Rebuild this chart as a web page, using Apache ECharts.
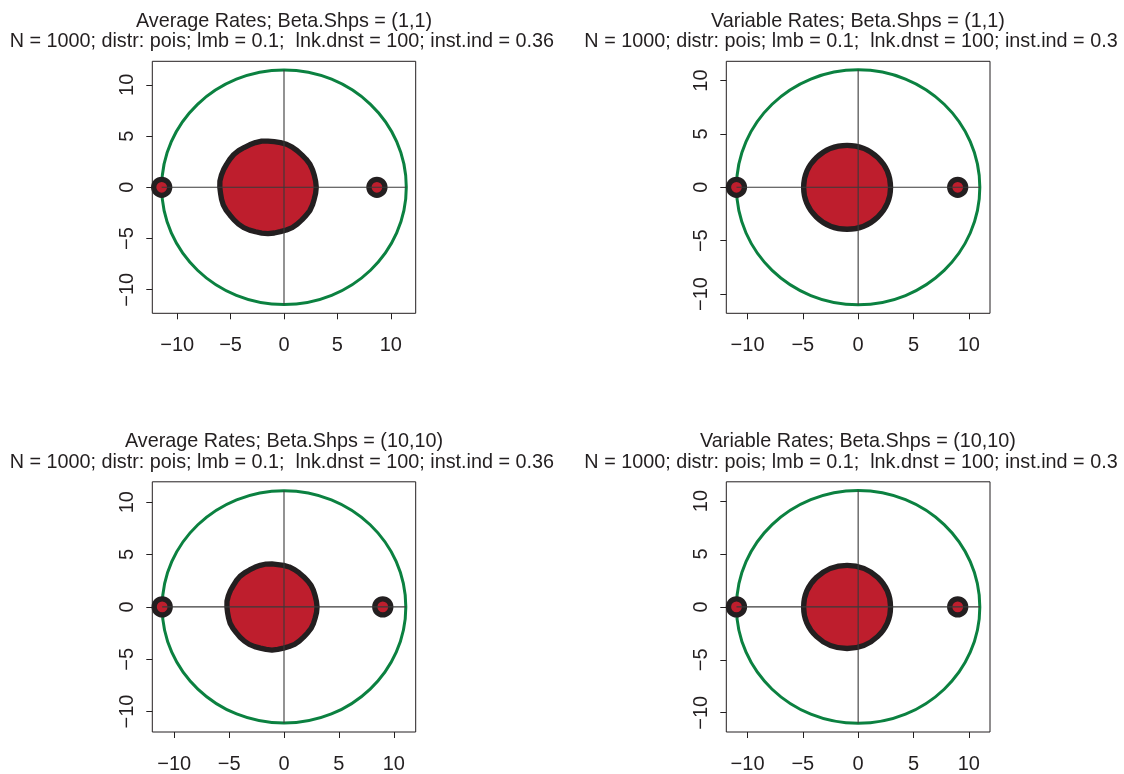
<!DOCTYPE html>
<html><head><meta charset="utf-8">
<script src="https://cdn.jsdelivr.net/npm/echarts@6/dist/echarts.min.js"></script>
<style>html,body{margin:0;padding:0;background:#fff}#c{width:1124px;height:774px}</style>
</head><body><div id="c"></div>
<script>
// ---- data ----
const titles = [
  'Average Rates; Beta.Shps = (1,1)',
  'Variable Rates; Beta.Shps = (1,1)',
  'Average Rates; Beta.Shps = (10,10)',
  'Variable Rates; Beta.Shps = (10,10)'
];
const subtitles = [
  'N = 1000; distr: pois; lmb = 0.1;  lnk.dnst = 100; inst.ind = 0.36',
  'N = 1000; distr: pois; lmb = 0.1;  lnk.dnst = 100; inst.ind = 0.3',
  'N = 1000; distr: pois; lmb = 0.1;  lnk.dnst = 100; inst.ind = 0.36',
  'N = 1000; distr: pois; lmb = 0.1;  lnk.dnst = 100; inst.ind = 0.3'
];
const tickValues = [-10, -5, 0, 5, 10];
const xLimit = [12.33, 11.92, 12.0, 11.92];
const yLimit = [12.3, 11.8, 11.95, 11.82];
const ringRadius = [11.45, 11.0, 11.1, 11.0];
const diskCenterX = [-1.5, -1.0, -1.1, -1.0];
const diskRadius = [4.5, 3.93, 4.1, 3.93];
const leftDotX = [-11.45, -11.0, -11.1, -11.0];
const rightDotX = [8.7, 9.0, 9.0, 9.0];
// slightly irregular outlines of the "Average Rates" disks (radius per 7.5 degrees)
const outlineRadii1 = [4.52,4.50,4.49,4.51,4.53,4.50,4.48,4.50,4.53,4.55,4.52,4.49,4.51,4.54,4.52,4.49,
                       4.48,4.51,4.53,4.50,4.48,4.50,4.52,4.54,4.51,4.48,4.50,4.53,4.51,4.48,4.50,4.53,
                       4.55,4.52,4.49,4.51,4.53,4.50,4.48,4.51,4.54,4.52,4.49,4.50,4.53,4.51,4.48,4.50];
const outlineRadii3 = [4.11,4.09,4.08,4.10,4.12,4.10,4.08,4.09,4.12,4.13,4.11,4.08,4.10,4.13,4.11,4.09,
                       4.08,4.10,4.12,4.10,4.07,4.09,4.11,4.13,4.10,4.08,4.09,4.12,4.10,4.08,4.10,4.12,
                       4.13,4.11,4.08,4.10,4.12,4.09,4.08,4.10,4.13,4.11,4.08,4.09,4.12,4.10,4.08,4.10];
const outlines = [outlineRadii1, null, outlineRadii3, null];

// ---- styles / layout ----
const RED = '#be1e2d', DARK = '#231f20', GREEN = '#0b8140', LINE = '#3a3a3a';
const FONT = 'Liberation Sans, Arial, Helvetica, sans-serif';
const grids = [
  {left: 152.3, top: 61.3, width: 263.4, height: 252},
  {left: 726.3, top: 61.3, width: 263.7, height: 252},
  {left: 152.3, top: 481.8, width: 263.4, height: 252.3},
  {left: 726.3, top: 481.8, width: 263.7, height: 252.3}
];
const fmt = v => String(v).replace('-', '\u2212');

const xAxis = [], yAxis = [], series = [], graphic = [];
grids.forEach((g, i) => {
  g.show = true; g.borderColor = DARK; g.borderWidth = 1; g.backgroundColor = 'transparent';
  const common = {
    gridIndex: i, type: 'value',
    axisLine: {show: false, onZero: false},
    splitLine: {show: false},
    axisTick: {show: true, customValues: tickValues, length: 6, lineStyle: {color: DARK, width: 1}},
  };
  xAxis.push(Object.assign({}, common, {
    min: -xLimit[i], max: xLimit[i],
    axisLabel: {customValues: tickValues, formatter: fmt, fontSize: 20, fontFamily: FONT, color: DARK, margin: 22}
  }));
  yAxis.push(Object.assign({}, common, {
    min: -yLimit[i], max: yLimit[i],
    axisLabel: {customValues: tickValues, formatter: fmt, fontSize: 20, fontFamily: FONT, color: DARK, margin: 15, rotate: 90}
  }));
  // green ring
  series.push({
    type: 'custom', xAxisIndex: i, yAxisIndex: i, silent: true,
    data: [[0, 0, ringRadius[i]]],
    renderItem: (p, api) => {
      const c = api.coord([api.value(0), api.value(1)]);
      const s = api.size([api.value(2), api.value(2)]);
      return {type: 'ellipse', shape: {cx: c[0], cy: c[1], rx: s[0], ry: s[1]},
              style: {fill: 'none', stroke: GREEN, lineWidth: 3}};
    }
  });
  // cross lines
  const R = ringRadius[i];
  series.push({type: 'line', xAxisIndex: i, yAxisIndex: i, silent: true, symbol: 'none',
    data: [[leftDotX[i], 0], [R, 0]], lineStyle: {color: LINE, width: 1.1}});
  series.push({type: 'line', xAxisIndex: i, yAxisIndex: i, silent: true, symbol: 'none',
    data: [[0, -R], [0, R]], lineStyle: {color: LINE, width: 1.1}});
  // red disk
  const radii = outlines[i];
  series.push({
    type: 'custom', xAxisIndex: i, yAxisIndex: i, silent: true,
    data: [[diskCenterX[i], 0, diskRadius[i]]],
    renderItem: (p, api) => {
      const cx = api.value(0), cy = api.value(1), r = api.value(2);
      const style = {fill: RED, stroke: DARK, lineWidth: 5.3, lineJoin: 'round'};
      if (radii) {
        const pts = radii.map((rr, k) => {
          const a = k / radii.length * 2 * Math.PI;
          return api.coord([cx + rr * Math.cos(a), cy + rr * Math.sin(a)]);
        });
        return {type: 'polygon', shape: {points: pts}, style};
      }
      const c = api.coord([cx, cy]);
      const s = api.size([r, r]);
      return {type: 'ellipse', shape: {cx: c[0], cy: c[1], rx: s[0], ry: s[1]}, style};
    }
  });
  // small dots
  series.push({type: 'custom', xAxisIndex: i, yAxisIndex: i, silent: true,
    data: [[leftDotX[i], 0], [rightDotX[i], 0]],
    renderItem: (p, api) => {
      const c = api.coord([api.value(0), api.value(1)]);
      return {type: 'circle', shape: {cx: c[0], cy: c[1], r: 8},
              style: {fill: RED, stroke: DARK, lineWidth: 5.3}};
    }
  });
});

// titles
const col1 = [284, 858], col2 = [281.8, 851];
const row1 = [21.4, 441.9], row2 = [41.6, 462.1];
titles.forEach((t, i) => {
  const c = i % 2, r = Math.floor(i / 2);
  graphic.push({type: 'text', x: col1[c], y: row1[r], silent: true,
    style: {text: t, fill: DARK, font: '19.8px ' + FONT, textAlign: 'center', textVerticalAlign: 'middle'}});
  graphic.push({type: 'text', x: col2[c], y: row2[r], silent: true,
    style: {text: subtitles[i], fill: DARK, font: '19.8px ' + FONT, textAlign: 'center', textVerticalAlign: 'middle'}});
});

const chart = echarts.init(document.getElementById('c'), null, {renderer: 'canvas'});
chart.setOption({animation: false, backgroundColor: '#fff', grid: grids, xAxis, yAxis, series, graphic});
</script></body></html>
